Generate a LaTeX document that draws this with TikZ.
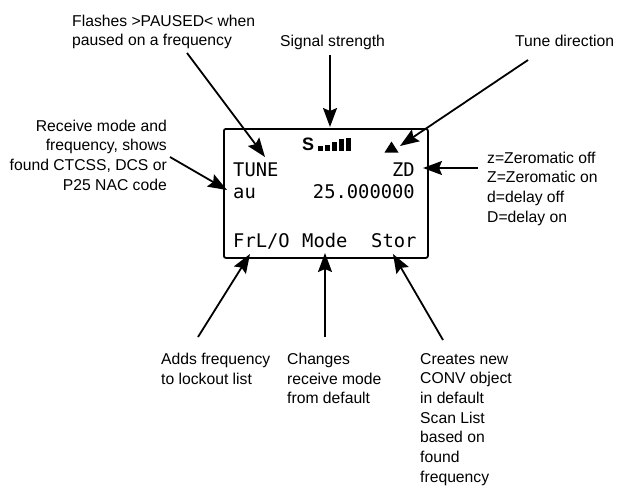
\documentclass[tikz,border=0pt]{standalone}
\usepackage{fontspec}
\setmainfont{Liberation Sans}
\newfontfamily\lcdfont{DejaVu Sans Mono}
\usetikzlibrary{arrows.meta}
\tikzset{
  lbl/.style={inner sep=0pt, font=\fontsize{15.7}{19.7}\selectfont},
  lcdtxt/.style={inner sep=0pt, font=\lcdfont\fontsize{18.8}{22}\selectfont},
  callout/.style={line width=1.8pt, -{Stealth[length=19pt,width=14pt,inset=3pt]}},
  bar/.style={fill=black, draw=none}
}
\begin{document}
\begin{tikzpicture}[x=1pt,y=-1pt]
\useasboundingbox (0,0) rectangle (618,485);
% display box
\node[draw, line width=1.8pt, rounded corners=2pt, minimum width=204pt, minimum height=129pt,
      anchor=north west, inner sep=0pt] (lcd) at (223,128) {};
% display text
\node[lcdtxt, anchor=base west] (tune) at (233,176) {TUNE};
\node[lcdtxt, anchor=base east] (zd) at (415,176) {ZD};
\node[lcdtxt, anchor=base west] (au) at (233,198) {au};
\node[lcdtxt, anchor=base east] (freq) at (415,198) {25.000000};
\node[lcdtxt, anchor=base west] (frlo) at (233,247) {FrL/O};
\node[lcdtxt, anchor=base west] (mode) at (302,247) {Mode};
\node[lcdtxt, anchor=base west] (stor) at (371,247) {Stor};
% signal icon
\node[inner sep=0pt, anchor=base west, font=\bfseries\fontsize{18}{20}\selectfont] (sig) at (302,150.5) {S};
\fill[bar] (317.5,150.5) rectangle (322.5,146);
\fill[bar] (324.5,150.5) rectangle (329.5,145);
\fill[bar] (331.5,150.5) rectangle (336.5,142);
\fill[bar] (338.5,150.5) rectangle (343.5,138.5);
\fill[bar] (345.5,150.5) rectangle (351,138);
% tune direction triangle
\fill (384.5,152.5) -- (391.5,141.5) -- (398.5,152.5) -- cycle;
% labels
\node[lbl, anchor=north west, align=left] (paused) at (72,14.5) {Flashes >PAUSED< when\\paused on a frequency};
\node[lbl, anchor=north west] (signal) at (280,34.5) {Signal strength};
\node[lbl, anchor=north west] (tunedir) at (515,34.5) {Tune direction};
\node[lbl, anchor=north east, align=right] (rxmode) at (167,119.5) {Receive mode and\\frequency, shows\\found CTCSS, DCS or\\P25 NAC code};
\node[lbl, anchor=north west, align=left] (zero) at (487,151.5) {z=Zeromatic off\\Z=Zeromatic on\\d=delay off\\D=delay on};
\node[lbl, anchor=north west, align=left] (adds) at (161,353) {Adds frequency\\to lockout list};
\node[lbl, anchor=north west, align=left] (changes) at (287,353) {Changes\\receive mode\\from default};
\node[lbl, anchor=north west, align=left] (creates) at (420,353) {Creates new\\CONV object\\in default\\Scan List\\based on\\found\\frequency};
% arrow end points
\coordinate (pausedS) at (187,53);
\coordinate (pausedT) at (265,157);
\coordinate (signalS) at (330,55);
\coordinate (signalT) at (330,127);
\coordinate (tuneS) at (528,60);
\coordinate (tuneT) at (400,146);
\coordinate (rxS) at (170,157);
\coordinate (rxT) at (227,190);
\coordinate (zeroS) at (478,168);
\coordinate (zeroT) at (423,168);
\coordinate (addsS) at (198,337);
\coordinate (addsT) at (250,254);
\coordinate (modeS) at (325,337);
\coordinate (modeT) at (325,253);
\coordinate (storS) at (443,340);
\coordinate (storT) at (393,254);
% arrows
\draw[callout] (pausedS) -- (pausedT);
\draw[callout] (signalS) -- (signalT);
\draw[callout] (tuneS) -- (tuneT);
\draw[callout] (rxS) -- (rxT);
\draw[callout] (zeroS) -- (zeroT);
\draw[callout] (addsS) -- (addsT);
\draw[callout] (modeS) -- (modeT);
\draw[callout] (storS) -- (storT);
\end{tikzpicture}
\end{document}
